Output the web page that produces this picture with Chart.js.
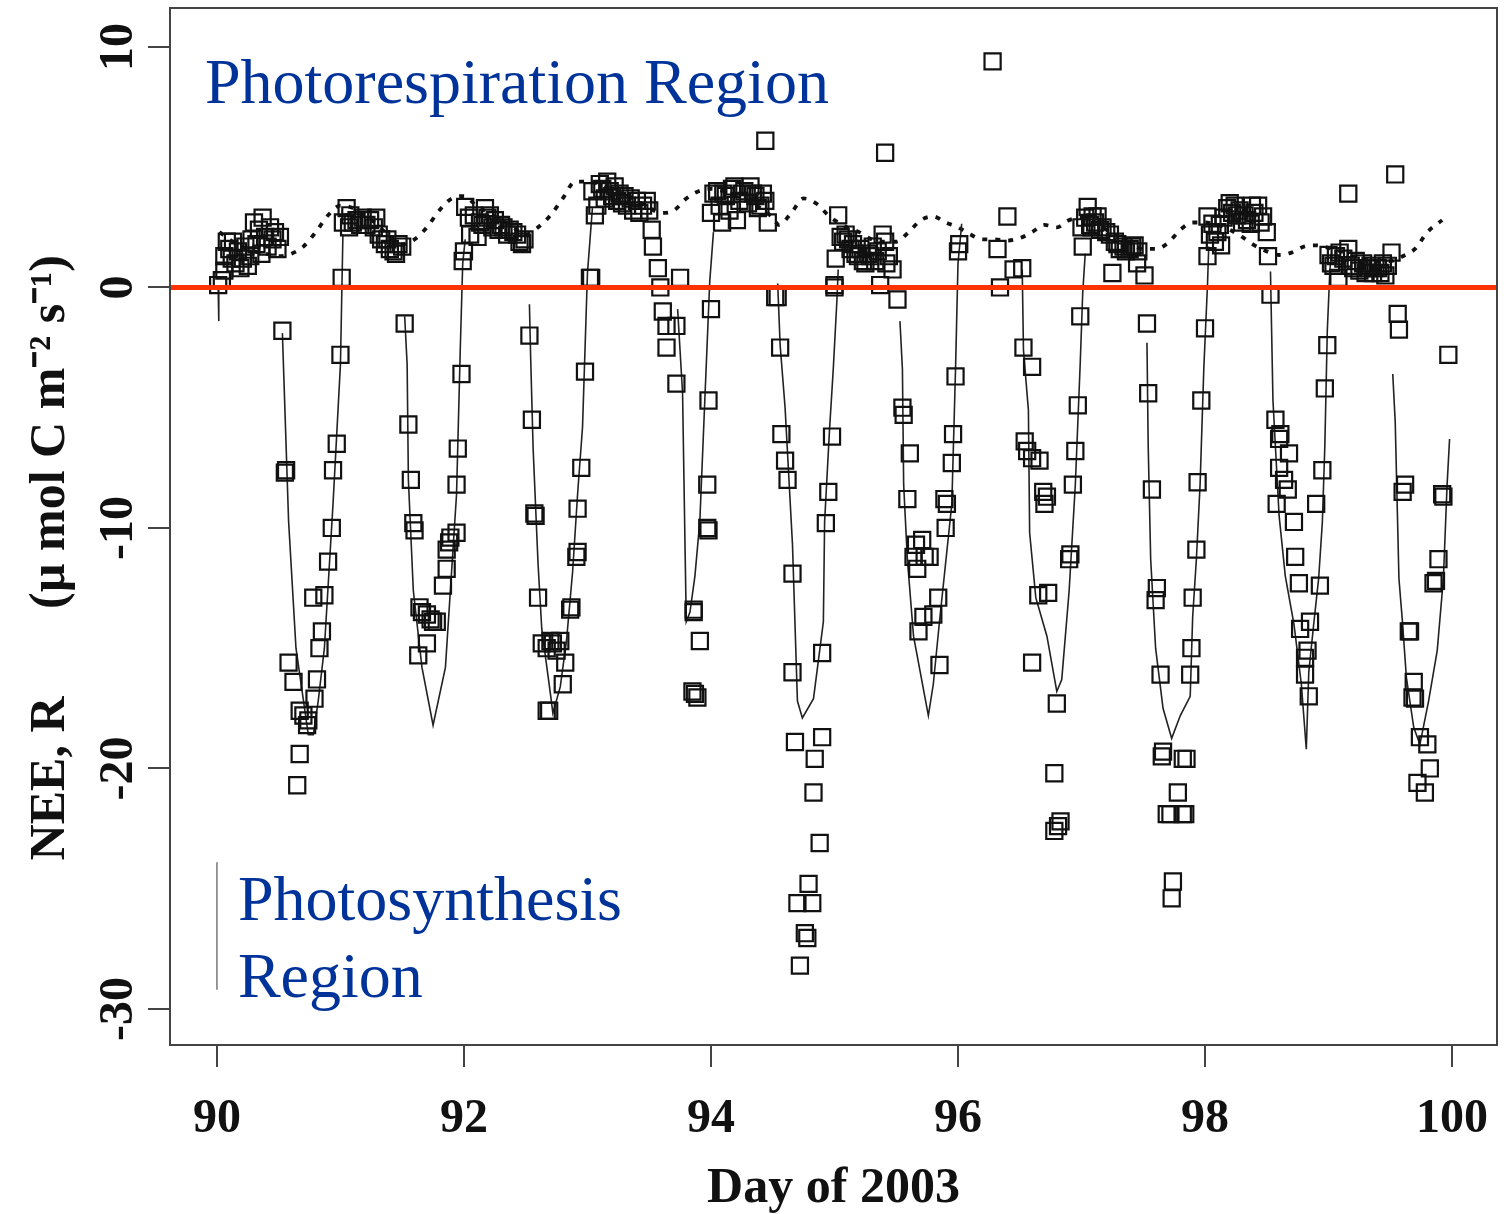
<!DOCTYPE html>
<html>
<head>
<meta charset="utf-8">
<script src="https://cdn.jsdelivr.net/npm/chart.js@4.4.1/dist/chart.umd.min.js"></script>
<style>
  html, body { margin: 0; padding: 0; background: #ffffff; }
  #wrap { position: relative; width: 1506px; height: 1214px; }
</style>
</head>
<body>
<div id="wrap"><canvas id="neeChart"></canvas></div>
<script>
// axis ticks
var xTicks = [90, 92, 94, 96, 98, 100];
var yTicks = [-30, -20, -10, 0, 10];

// measured NEE, one array per day: [day of year, NEE]
var obs90 = [[90.01,0.1],[90.04,0.3],[90.06,0.7],[90.06,1.3],[90.08,1.9],[90.1,1.6],[90.12,1.2],[90.13,1.9],[90.15,1.0],[90.17,1.5],[90.19,0.8],[90.21,1.2],[90.23,1.7],[90.25,0.9],[90.27,1.3],[90.28,2.0],[90.3,2.7],[90.32,1.8],[90.34,2.4],[90.36,1.4],[90.37,2.9],[90.39,2.1],[90.41,1.7],[90.43,2.5],[90.45,2.0],[90.47,2.3],[90.49,1.6],[90.51,2.1],
  [90.53,-1.8],[90.55,-7.7],[90.56,-7.6],[90.58,-15.6],[90.62,-16.4],[90.67,-17.6],[90.7,-17.8],[90.73,-18.2],[90.74,-18.0],[90.79,-17.1],[90.81,-16.3],[90.83,-15.0],[90.85,-14.3],[90.78,-12.9],[90.87,-12.8],[90.9,-11.4],[90.93,-10.0],[90.94,-7.6],[90.97,-6.5],[91.0,-2.8],[91.01,0.4],[90.67,-19.4],[90.65,-20.7]];
var obs91 = [[91.02,2.7],[91.05,3.3],[91.07,2.5],[91.08,3.0],[91.1,2.7],[91.13,2.8],[91.16,2.6],[91.18,2.9],[91.21,2.6],[91.24,2.8],[91.27,2.5],[91.29,2.9],[91.31,2.2],[91.33,2.0],[91.36,1.8],[91.38,2.0],[91.4,1.6],[91.43,1.5],[91.45,1.4],[91.47,1.8],[91.5,1.7],
  [91.52,-1.5],[91.55,-5.7],[91.57,-8.0],[91.59,-9.8],[91.6,-10.1],[91.64,-13.3],[91.66,-13.5],[91.7,-13.6],[91.73,-13.8],[91.75,-13.9],[91.78,-13.9],[91.7,-14.8],[91.63,-15.3],[91.83,-12.4],[91.86,-11.7],[91.86,-10.9],[91.88,-10.6],[91.89,-10.4],[91.94,-10.2],[91.94,-8.2],[91.95,-6.7],[91.98,-3.6],[91.99,1.1],[92.0,1.5]];
var obs92 = [[92.01,3.35],[92.04,2.9],[92.05,2.2],[92.08,3.0],[92.11,2.1],[92.13,2.7],[92.15,2.6],[92.17,3.3],[92.19,2.9],[92.21,3.0],[92.23,2.5],[92.25,2.8],[92.28,2.4],[92.3,2.6],[92.32,2.5],[92.35,2.2],[92.37,2.4],[92.4,2.3],[92.43,2.2],[92.45,1.9],[92.47,1.8],[92.49,2.0],
  [92.53,-2.0],[92.55,-5.5],[92.57,-9.4],[92.58,-9.5],[92.6,-12.9],[92.63,-14.8],[92.67,-15.0],[92.7,-14.7],[92.72,-14.8],[92.75,-15.1],[92.78,-14.7],[92.82,-15.6],[92.8,-16.5],[92.67,-17.6],[92.69,-17.6],[92.86,-13.4],[92.87,-13.3],[92.91,-11.2],[92.92,-11.0],[92.92,-9.2],[92.95,-7.5],[92.98,-3.5],[93.02,0.4],[93.03,0.4]];
var obs93 = [[93.04,4.0],[93.06,3.0],[93.08,3.4],[93.1,4.3],[93.12,4.1],[93.14,3.7],[93.16,4.4],[93.18,4.0],[93.2,3.8],[93.22,4.2],[93.24,3.6],[93.26,3.9],[93.28,3.5],[93.3,3.8],[93.32,3.4],[93.35,3.7],[93.37,3.2],[93.4,3.6],[93.42,3.1],[93.45,3.4],[93.48,3.6],[93.5,3.2],
  [93.52,2.4],[93.53,1.7],[93.57,0.8],[93.59,0.0],[93.61,-1.0],[93.64,-1.6],[93.64,-2.5],[93.72,-1.6],[93.75,0.4],[93.72,-4.0],[93.86,-13.5],[93.86,-13.4],[93.91,-14.7],[93.85,-16.8],[93.87,-16.9],[93.89,-17.05],[93.98,-10.1],[93.97,-10.0],[93.97,-8.2],[93.98,-4.7],[94.0,-0.9]];
var obs94 = [[94.0,3.1],[94.02,3.9],[94.05,4.0],[94.07,3.4],[94.09,2.7],[94.1,3.9],[94.12,3.8],[94.15,3.2],[94.17,4.1],[94.19,4.2],[94.21,2.8],[94.23,3.6],[94.25,3.9],[94.27,4.0],[94.3,3.5],[94.32,4.2],[94.34,3.9],[94.36,3.8],[94.38,3.3],[94.4,3.4],[94.42,3.9],[94.44,3.6],[94.46,2.7],[94.44,6.1],
  [94.52,-0.4],[94.54,-0.4],[94.56,-2.5],[94.57,-6.1],[94.6,-7.2],[94.62,-8.0],[94.66,-11.9],[94.66,-16.0],[94.68,-18.9],[94.72,-28.2],[94.7,-25.6],[94.76,-26.85],[94.78,-27.05],[94.79,-24.8],[94.82,-25.6],[94.84,-19.6],[94.88,-23.1],[94.83,-21.0],[94.9,-18.7],[94.9,-15.2],[94.93,-9.8],[94.95,-8.5],[94.98,-6.2],[95.0,0.1]];
var obs95 = [[95.01,1.2],[95.0,0.0],[95.03,3.0],[95.05,2.1],[95.07,1.9],[95.09,2.2],[95.11,2.0],[95.13,1.6],[95.15,1.8],[95.17,1.4],[95.19,1.3],[95.21,1.6],[95.23,1.1],[95.25,1.0],[95.27,1.4],[95.29,1.3],[95.31,1.7],[95.33,1.1],[95.35,1.5],[95.37,0.1],[95.39,2.2],[95.41,1.9],[95.42,1.0],[95.44,1.3],[95.47,0.75],[95.51,-0.5],[95.41,5.6],
  [95.55,-5.0],[95.56,-5.3],[95.61,-6.9],[95.59,-8.8],[95.64,-11.2],[95.66,-10.7],[95.67,-11.7],[95.71,-10.5],[95.73,-11.2],[95.77,-11.2],[95.68,-14.3],[95.72,-13.7],[95.8,-13.6],[95.84,-12.9],[95.85,-15.7],[95.9,-10.0],[95.89,-8.8],[95.91,-9.0],[95.95,-7.3],[95.96,-6.1],[95.98,-3.7],[96.0,1.5],[96.01,1.8]];
var obs96 = [[96.28,9.4],[96.32,1.6],[96.34,0.0],[96.4,2.95],[96.45,0.75],[96.52,0.8],[96.53,-2.5],[96.6,-3.3],[96.54,-6.4],[96.56,-6.8],[96.6,-7.1],[96.66,-7.2],[96.69,-8.5],[96.7,-9.0],[96.72,-8.7],[96.65,-12.8],[96.73,-12.7],[96.6,-15.6],[96.8,-17.3],[96.78,-20.2],[96.83,-22.2],[96.81,-22.4],[96.78,-22.6],[96.9,-11.3],[96.91,-11.1],[96.93,-8.2],[96.95,-6.8],[96.97,-4.9],[96.99,-1.2]];
var obs97 = [[97.0,2.5],[97.01,1.7],[97.03,2.9],[97.05,3.35],[97.07,2.6],[97.08,2.5],[97.09,2.95],[97.11,2.7],[97.13,2.95],[97.15,2.4],[97.17,2.5],[97.2,2.3],[97.23,2.2],[97.25,0.6],[97.27,1.9],[97.29,1.8],[97.31,1.6],[97.34,1.7],[97.36,1.5],[97.39,1.6],[97.41,1.7],[97.43,1.75],[97.45,1.0],[97.46,1.5],[97.51,0.5],
  [97.53,-1.5],[97.54,-4.4],[97.57,-8.4],[97.61,-12.5],[97.6,-13.0],[97.64,-16.1],[97.66,-19.3],[97.65,-19.5],[97.69,-21.9],[97.72,-21.9],[97.78,-21.0],[97.82,-21.9],[97.84,-21.9],[97.82,-19.6],[97.85,-19.6],[97.74,-24.7],[97.73,-25.4],[97.88,-16.1],[97.89,-15.0],[97.9,-12.9],[97.93,-10.9],[97.94,-8.1],[97.97,-4.7],[98.0,-1.7],[98.02,1.3]];
var obs98 = [[98.02,2.95],[98.04,2.2],[98.06,2.65],[98.08,1.9],[98.1,2.3],[98.12,2.6],[98.13,1.75],[98.15,2.9],[98.18,3.3],[98.2,3.5],[98.22,3.1],[98.24,3.4],[98.26,3.0],[98.28,3.2],[98.3,2.7],[98.32,3.0],[98.34,2.8],[98.37,2.65],[98.38,3.4],[98.4,3.1],[98.43,3.4],[98.45,2.7],[98.47,2.95],[98.5,2.3],[98.51,1.3],
  [98.53,-0.3],[98.57,-5.5],[98.61,-6.1],[98.6,-6.3],[98.68,-6.9],[98.6,-7.5],[98.64,-8.0],[98.67,-8.4],[98.58,-9.0],[98.72,-9.75],[98.73,-11.2],[98.76,-12.3],[98.77,-14.2],[98.85,-13.9],[98.81,-15.4],[98.81,-16.1],[98.84,-17.0],[98.83,-15.1],[98.93,-12.4],[98.9,-9.0],[98.95,-7.6],[98.97,-4.2],[98.99,-2.4]];
var obs99 = [[99.0,1.35],[99.02,1.0],[99.04,0.9],[99.06,1.3],[99.08,0.4],[99.09,1.45],[99.12,1.2],[99.16,1.6],[99.18,0.9],[99.2,0.8],[99.22,1.1],[99.25,0.7],[99.28,1.0],[99.3,0.6],[99.32,0.8],[99.34,0.9],[99.36,0.6],[99.38,0.8],[99.4,0.8],[99.42,0.6],[99.44,1.0],[99.46,0.5],[99.48,0.9],[99.51,1.45],[99.16,3.9],[99.54,4.7],
  [99.56,-1.1],[99.57,-1.75],[99.6,-8.5],[99.62,-8.2],[99.65,-14.3],[99.66,-14.3],[99.69,-16.4],[99.68,-17.05],[99.7,-17.1],[99.74,-18.7],[99.8,-19.0],[99.82,-20.0],[99.72,-20.6],[99.78,-21.0],[99.89,-11.3],[99.87,-12.2],[99.85,-12.3],[99.92,-8.6],[99.93,-8.7],[99.97,-2.8]];

// modelled daytime NEE, one segment per day
var model90a = [[90.01,0.0],[90.015,-1.4]];
var model90 = [[90.53,-1.9],[90.58,-9.7],[90.64,-15.0],[90.74,-18.6],[90.78,-18.6],[90.82,-17.2],[90.87,-15.0],[90.94,-9.0],[91.0,-3.2],[91.02,2.2]];
var model91 = [[91.52,-1.2],[91.54,-3.2],[91.55,-8.0],[91.59,-12.6],[91.66,-15.8],[91.75,-18.2],[91.85,-15.8],[91.9,-11.8],[91.94,-8.6],[91.97,-2.6],[91.99,1.0],[92.01,2.0]];
var model92 = [[92.53,-0.7],[92.54,-2.9],[92.56,-6.7],[92.6,-11.5],[92.63,-14.2],[92.7,-16.9],[92.72,-17.7],[92.78,-16.6],[92.83,-14.7],[92.88,-11.8],[92.92,-8.6],[92.96,-5.8],[92.99,-1.0],[93.0,0.6],[93.04,3.3]];
var model93 = [[93.73,-0.9],[93.77,-4.4],[93.79,-10.8],[93.8,-13.9],[93.83,-13.5],[93.87,-12.0],[93.91,-9.7],[93.95,-4.7],[93.99,0.25],[94.02,2.3]];
var model94 = [[94.54,0.17],[94.56,-2.4],[94.6,-5.0],[94.66,-10.7],[94.7,-17.2],[94.74,-17.9],[94.83,-17.1],[94.91,-13.9],[94.92,-9.75],[94.96,-5.9],[94.99,-3.4],[95.02,-0.5],[95.03,0.75]];
var model95 = [[95.53,-1.4],[95.55,-3.4],[95.56,-8.2],[95.59,-11.3],[95.64,-14.5],[95.76,-17.8],[95.8,-16.5],[95.85,-13.9],[95.95,-9.0],[95.98,-3.4],[96.0,1.0],[96.03,2.65]];
var model96 = [[96.52,0.75],[96.53,-2.6],[96.57,-5.1],[96.58,-10.2],[96.63,-12.9],[96.72,-14.5],[96.8,-16.8],[96.84,-16.3],[96.9,-12.6],[96.95,-8.2],[96.99,-3.1],[97.01,-0.2],[97.03,1.4]];
var model97 = [[97.53,-2.3],[97.54,-6.6],[97.56,-11.3],[97.6,-15.0],[97.66,-17.5],[97.73,-18.75],[97.8,-17.8],[97.88,-17.0],[97.9,-13.7],[97.93,-11.3],[97.96,-8.2],[97.99,-3.4],[98.02,0.1],[98.03,1.7]];
var model98 = [[98.53,0.66],[98.55,-4.7],[98.6,-9.5],[98.65,-12.0],[98.72,-14.0],[98.78,-16.5],[98.82,-19.2],[98.84,-16.0],[98.88,-14.0],[98.92,-12.1],[98.95,-9.75],[98.97,-6.6],[98.99,-1.8],[99.01,0.6],[99.02,1.4]];
var model99 = [[99.52,-3.6],[99.54,-5.6],[99.57,-12.1],[99.6,-14.0],[99.63,-16.2],[99.69,-18.3],[99.74,-19.0],[99.81,-17.2],[99.88,-15.1],[99.93,-12.1],[99.96,-8.2],[99.98,-6.3]];

// ecosystem respiration R (dotted)
var respDays = [90.02,90.1,90.2,90.3,90.4,90.5,90.6,90.7,90.8,90.9,91.0,91.1,91.2,91.3,91.4,91.5,91.6,91.7,91.8,91.9,92.0,92.1,92.2,92.3,92.4,92.5,92.6,92.7,92.8,92.9,93.0,93.1,93.2,93.3,93.4,93.5,93.6,93.7,93.8,93.9,94.0,94.1,94.2,94.3,94.4,94.5,94.55,94.65,94.75,94.85,94.95,95.0,95.1,95.2,95.3,95.4,95.5,95.6,95.7,95.8,95.9,96.0,96.1,96.2,96.3,96.4,96.5,96.6,96.7,96.8,96.9,97.0,97.1,97.2,97.3,97.4,97.5,97.6,97.7,97.8,97.9,98.0,98.1,98.2,98.3,98.4,98.5,98.6,98.7,98.8,98.9,99.0,99.1,99.2,99.3,99.4,99.5,99.6,99.7,99.8,99.92];
var respValues = [2.3,2.0,1.7,1.5,1.4,1.3,1.4,1.7,2.3,3.0,3.4,3.3,3.0,2.6,2.1,1.8,2.0,2.5,3.2,3.7,3.8,3.4,3.1,2.8,2.5,2.2,2.5,3.0,3.7,4.4,4.4,4.3,4.1,3.9,3.6,3.3,3.1,3.2,3.7,4.0,4.1,4.0,3.8,3.6,3.3,2.9,2.6,3.1,3.7,3.5,3.0,2.8,2.5,2.3,2.0,1.9,1.9,2.3,2.8,2.95,2.7,2.5,2.2,2.0,2.0,1.95,2.05,2.3,2.6,2.5,2.8,2.9,2.7,2.4,2.1,1.8,1.6,1.6,1.85,2.4,2.7,2.7,2.6,2.4,2.1,1.75,1.5,1.35,1.45,1.7,1.75,1.65,1.5,1.3,1.15,1.1,1.1,1.3,1.6,2.3,2.8];

var xMin = 89.62, xMax = 100.364;
var yMin = -31.5, yMax = 11.62;

var serif = '"Liberation Serif", "Times New Roman", Times, serif';
var blue = '#003399';

function toPoints(arr) {
  return arr.map(function (p) { return { x: p[0], y: p[1] }; });
}

var obsPoints = toPoints([].concat(obs90, obs91, obs92, obs93, obs94, obs95, obs96, obs97, obs98, obs99));

// join the daytime model segments with gaps
var modelPoints = [];
[model90a, model90, model91, model92, model93, model94, model95, model96, model97, model98, model99].forEach(function (seg) {
  modelPoints = modelPoints.concat(toPoints(seg));
  modelPoints.push({ x: seg[seg.length - 1][0] + 0.001, y: null });
});

var respPoints = respDays.map(function (d, i) { return { x: d, y: respValues[i] }; });
var zeroLine = [{ x: xMin, y: 0 }, { x: xMax, y: 0 }];

// no extra room for overhanging tick labels: keep the plot box where R put it
function fixBox(s, w, h) {
  if (w !== null) s.width = w;
  if (h !== null) s.height = h;
  s.paddingTop = 0; s.paddingBottom = 0; s.paddingLeft = 0; s.paddingRight = 0;
}

// region labels + plot frame
var regionLabels = {
  id: 'regionLabels',
  afterDatasetsDraw: function (chart) {
    var ctx = chart.ctx, xs = chart.scales.x, ys = chart.scales.y, a = chart.chartArea;
    ctx.save();
    ctx.fillStyle = blue;
    ctx.font = '64px ' + serif;
    ctx.textBaseline = 'alphabetic';
    ctx.textAlign = 'left';
    ctx.fillText('Photorespiration Region', xs.getPixelForValue(89.903), ys.getPixelForValue(7.65));
    ctx.fillText('Photosynthesis', xs.getPixelForValue(90.17), ys.getPixelForValue(-26.3));
    ctx.fillText('Region', xs.getPixelForValue(90.17), ys.getPixelForValue(-29.5));
    ctx.strokeStyle = '#777';
    ctx.lineWidth = 1.5;
    ctx.beginPath();
    ctx.moveTo(xs.getPixelForValue(90.0), ys.getPixelForValue(-23.9));
    ctx.lineTo(xs.getPixelForValue(90.0), ys.getPixelForValue(-29.2));
    ctx.stroke();
    ctx.strokeStyle = '#444';
    ctx.lineWidth = 2;
    ctx.strokeRect(a.left, a.top, a.right - a.left, a.bottom - a.top);
    ctx.restore();
  }
};

new Chart(document.getElementById('neeChart').getContext('2d'), {
  type: 'scatter',
  data: {
    datasets: [
      {
        label: 'zero',
        data: zeroLine,
        showLine: true,
        borderColor: '#ff3300',
        borderWidth: 5,
        pointRadius: 0
      },
      {
        label: 'NEE measured',
        data: obsPoints,
        pointStyle: 'rect',
        pointRadius: 11.4,
        pointBorderWidth: 2.2,
        pointBorderColor: '#111',
        pointBackgroundColor: 'rgba(0,0,0,0)'
      },
      {
        label: 'NEE model',
        data: modelPoints,
        showLine: true,
        spanGaps: false,
        borderColor: '#222',
        borderWidth: 1.6,
        pointRadius: 0,
        tension: 0
      },
      {
        label: 'R',
        data: respPoints,
        showLine: true,
        borderColor: '#111',
        borderWidth: 3.8,
        borderDash: [5, 8],
        pointRadius: 0,
        cubicInterpolationMode: 'monotone'
      }
    ]
  },
  options: {
    responsive: true,
    maintainAspectRatio: false,
    animation: false,
    layout: { autoPadding: false, padding: { top: 8, right: 9, left: 0, bottom: 0 } },
    plugins: {
      legend: { display: false },
      tooltip: { enabled: false }
    },
    scales: {
      x: {
        type: 'linear',
        min: xMin,
        max: xMax,
        afterFit: function (s) { fixBox(s, null, 169); },
        afterBuildTicks: function (s) { s.ticks = xTicks.map(function (v) { return { value: v }; }); },
        grid: { drawOnChartArea: false, drawTicks: true, tickLength: 22, color: '#444', lineWidth: 2 },
        border: { display: false },
        ticks: {
          padding: 24,
          color: '#111',
          maxRotation: 0,
          font: { family: serif, size: 48, weight: 'bold' }
        },
        title: {
          display: true,
          text: 'Day of 2003',
          color: '#111',
          font: { family: serif, size: 50, weight: 'bold', lineHeight: 1 },
          padding: { top: 0, bottom: 0 }
        }
      },
      y: {
        type: 'linear',
        min: yMin,
        max: yMax,
        afterFit: function (s) { fixBox(s, 170, null); },
        afterBuildTicks: function (s) { s.ticks = yTicks.map(function (v) { return { value: v }; }); },
        grid: { drawOnChartArea: false, drawTicks: true, tickLength: 22, color: '#444', lineWidth: 2 },
        border: { display: false },
        ticks: {
          padding: -4,
          color: '#111',
          minRotation: 90,
          maxRotation: 90,
          crossAlign: 'center',
          font: { family: serif, size: 48, weight: 'bold' }
        },
        title: {
          display: true,
          text: 'NEE, R       (\u00b5 mol C m\u207b\u00b2 s\u207b\u00b9)     ',
          color: '#111',
          font: { family: serif, size: 50, weight: 'bold', lineHeight: 1 },
          padding: { top: 26, bottom: 0 }
        }
      }
    }
  },
  plugins: [regionLabels]
});
</script>
</body>
</html>
